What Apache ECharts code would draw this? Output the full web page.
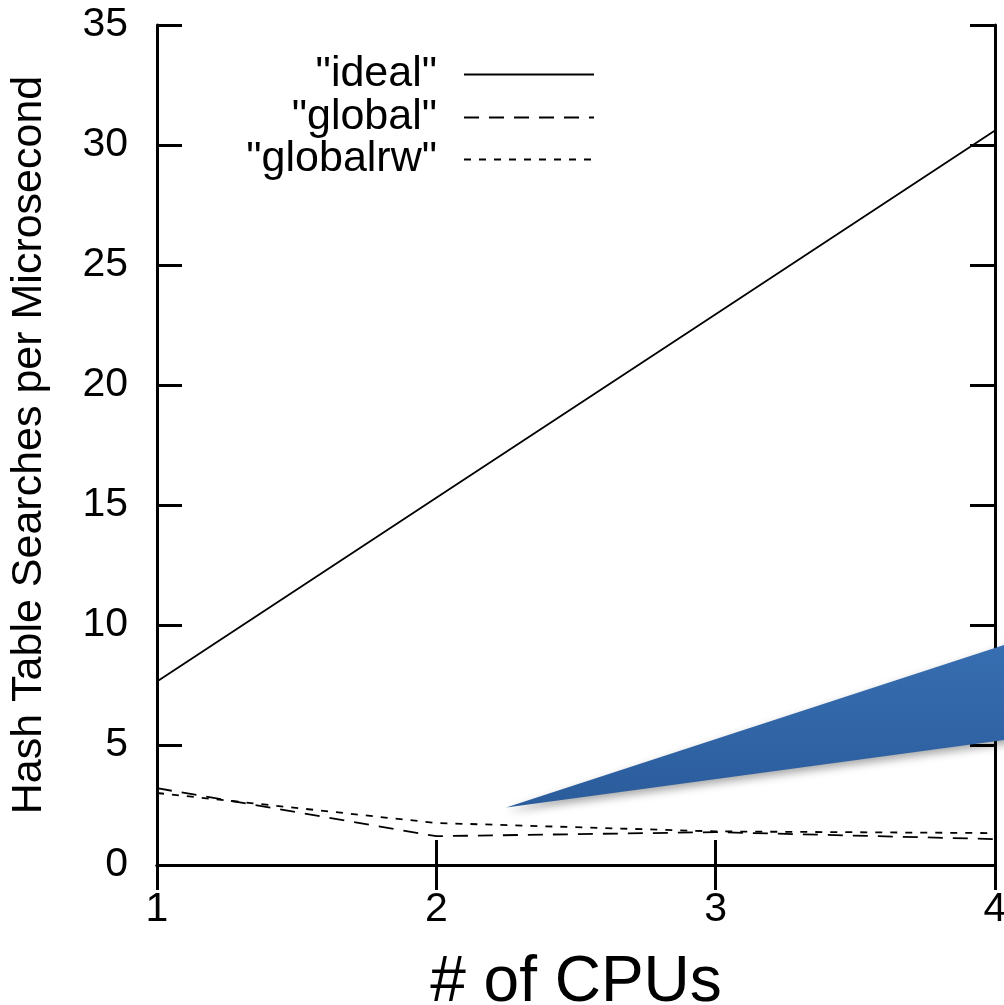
<!DOCTYPE html>
<html><head><meta charset="utf-8">
<script src="https://cdn.jsdelivr.net/npm/echarts@6/dist/echarts.min.js"></script>
<style>html,body{margin:0;padding:0;background:#fff;overflow:hidden}#c{width:1004px;height:1005px}</style>
</head><body><div id="c"></div>
<script>
var cpus = [1, 2, 3, 4];
var ideal = [7.65, 15.3, 22.95, 30.6];
var globalVals = [3.2, 1.2, 1.37, 1.08];
var globalrwVals = [3.0, 1.75, 1.4, 1.33];
var yTicks = [0, 5, 10, 15, 20, 25, 30, 35];
var xTicks = [1, 2, 3, 4];
var seriesNames = ['"ideal"', '"global"', '"globalrw"'];
var wedgePoints = [[2.25, 2.4], [4.2, 9.8], [4.2, 5.47]];

function pairs(xs, ys){ return xs.map(function(x,i){return [x, ys[i]];}); }
var FONT = '"Liberation Sans", Arial, Helvetica, sans-serif';
var axisCommon = {
  type: 'value',
  axisLine: {show: true, lineStyle: {color: '#000', width: 3}},
  axisTick: {show: true, inside: true, length: 25, lineStyle: {color: '#000', width: 3}},
  splitLine: {show: false}
};
function legendFor(name, top){
  return {
    data: [name], right: 409, top: top, orient: 'horizontal', align: 'right',
    itemWidth: 130, itemHeight: 14, itemGap: 0, padding: 0,
    selectedMode: false,
    itemStyle: {opacity: 0, borderWidth: 0},
    textStyle: {fontFamily: FONT, fontSize: 43, color: '#000', padding: [0, 22, 0, 0]}
  };
}
var chart = echarts.init(document.getElementById('c'), null, {renderer: 'canvas'});
chart.setOption({
  animation: false,
  backgroundColor: '#fff',
  grid: {left: 157, right: 9, top: 25, bottom: 140, containLabel: false, outerBoundsMode: 'none'},
  legend: [legendFor(seriesNames[0], 53), legendFor(seriesNames[1], 96), legendFor(seriesNames[2], 138)],
  xAxis: [
    Object.assign({}, axisCommon, {
      position: 'bottom', min: xTicks[0], max: xTicks[xTicks.length-1], interval: 1,
      axisLabel: {show: true, margin: 24, fontFamily: FONT, fontSize: 41, color: '#000'},
      name: '# of CPUs', nameLocation: 'middle', nameGap: 86,
      nameTextStyle: {fontFamily: FONT, fontSize: 64, color: '#000'}
    }),
    Object.assign({}, axisCommon, {
      position: 'top', min: xTicks[0], max: xTicks[xTicks.length-1], interval: 1,
      axisLabel: {show: false}
    })
  ],
  yAxis: [
    Object.assign({}, axisCommon, {
      position: 'left', min: yTicks[0], max: yTicks[yTicks.length-1], interval: 5,
      axisLabel: {show: true, margin: 29, fontFamily: FONT, fontSize: 41, color: '#000'},
      name: 'Hash Table Searches per Microsecond', nameLocation: 'middle', nameGap: 106, nameRotate: 90,
      nameTextStyle: {fontFamily: FONT, fontSize: 43, color: '#000'}
    }),
    Object.assign({}, axisCommon, {
      position: 'right', min: yTicks[0], max: yTicks[yTicks.length-1], interval: 5,
      axisLabel: {show: false}
    })
  ],
  series: [
    {name: seriesNames[0], type: 'line', data: pairs(cpus, ideal), symbol: 'none',
     lineStyle: {color: '#000', width: 1.8, type: 'solid'}, itemStyle: {color: '#000'}},
    {name: seriesNames[1], type: 'line', data: pairs(cpus, globalVals), symbol: 'none',
     lineStyle: {color: '#000', width: 1.8, type: [15, 10]}, itemStyle: {color: '#000'}},
    {name: seriesNames[2], type: 'line', data: pairs(cpus, globalrwVals), symbol: 'none',
     lineStyle: {color: '#000', width: 1.8, type: [7, 8]}, itemStyle: {color: '#000'}},
    {type: 'custom', data: [0], clip: false, z: 10, silent: true,
     renderItem: function(params, api){
       var pts = wedgePoints.map(function(p){ return api.coord(p); });
       return {type: 'polygon', shape: {points: pts},
         style: {fill: new echarts.graphic.LinearGradient(0, 0, 0, 1, [
           {offset: 0, color: '#3870b3'}, {offset: 1, color: '#2b5c9c'}]),
           shadowBlur: 8, shadowOffsetY: 4, shadowOffsetX: 1, shadowColor: 'rgba(0,0,0,0.35)'}};
     }}
  ]
});
</script></body></html>
